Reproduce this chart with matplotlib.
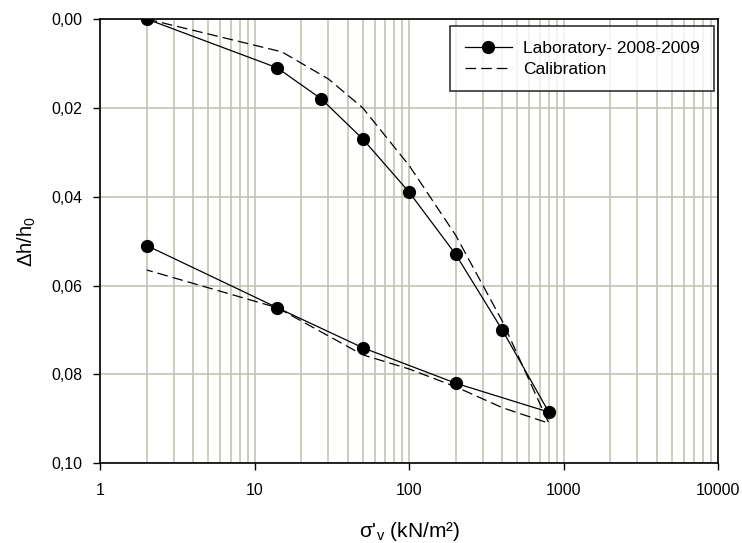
import matplotlib.pyplot as plt
from matplotlib.ticker import FuncFormatter, LogLocator, FixedLocator

plt.rcParams['font.family'] = ['Liberation Sans', 'DejaVu Sans']

# oedometer test: loading then unloading branch
stress_lab = [2, 14, 27, 50, 100, 200, 400, 800, 200, 50, 14, 2]
strain_lab = [0.0, 0.011, 0.018, 0.027, 0.039, 0.053, 0.070, 0.0885,
              0.082, 0.074, 0.065, 0.051]

stress_cal = [2, 15, 30, 50, 100, 200, 400, 800, 400, 200, 100, 50, 14, 2]
strain_cal = [0.0, 0.0074, 0.0135, 0.020, 0.033, 0.0487, 0.068, 0.091,
              0.0875, 0.0828, 0.0788, 0.0756, 0.0650, 0.0565]

y_ticks = [0.0, 0.02, 0.04, 0.06, 0.08, 0.10]
x_ticks = [1, 10, 100, 1000, 10000]

fig = plt.figure(figsize=(7.42, 5.43), dpi=100)
ax = fig.add_axes([0.135, 0.147, 0.833, 0.818])

grid_col = '#c3c3b4'
ax.set_xscale('log')
ax.set_xlim(1, 10000)
ax.set_ylim(0.10, 0.0)

ax.xaxis.set_major_locator(FixedLocator(x_ticks))
ax.xaxis.set_minor_locator(LogLocator(base=10, subs=range(2, 10), numticks=20))
ax.xaxis.set_major_formatter(FuncFormatter(lambda v, p: f"{v:g}"))
ax.xaxis.set_minor_formatter(FuncFormatter(lambda v, p: ""))
ax.yaxis.set_major_locator(FixedLocator(y_ticks))
ax.yaxis.set_major_formatter(FuncFormatter(lambda v, p: f"{v:.2f}".replace('.', ',')))

ax.grid(True, which='major', axis='both', color=grid_col, lw=1.2)
ax.grid(True, which='minor', axis='x', color=grid_col, lw=1.2)
ax.tick_params(which='major', direction='out', length=5, width=1, labelsize=11.5)
ax.tick_params(axis='y', pad=8)
ax.tick_params(axis='x', pad=9)
ax.tick_params(which='minor', length=0)
ax.set_axisbelow(True)
for s in ax.spines.values():
    s.set_linewidth(1.2)

ax.plot(stress_lab, strain_lab, color='black', lw=0.9, marker='o', ms=8.5,
        label='Laboratory- 2008-2009', zorder=3)
ax.plot(stress_cal, strain_cal, color='black', lw=0.9, ls=(0, (8.5, 4)),
        label='Calibration', zorder=2)

ax.set_xlabel("σ'$_\\mathregular{v}$ (kN/m²)", fontsize=15, labelpad=16)
ax.set_ylabel("Δh/h$_\\mathregular{0}$", fontsize=14.5, labelpad=9.5)

leg = ax.legend(loc='upper left', bbox_to_anchor=(450 / 742, 1 - 26 / 543),
                bbox_transform=fig.transFigure, fontsize=12.5,
                frameon=True, fancybox=False, edgecolor='black',
                borderpad=0.85, borderaxespad=0, handlelength=2.7,
                handletextpad=0.65, labelspacing=0.32)
leg.get_frame().set_linewidth(1.2)

fig.savefig('out.png', dpi=100, facecolor='white')
